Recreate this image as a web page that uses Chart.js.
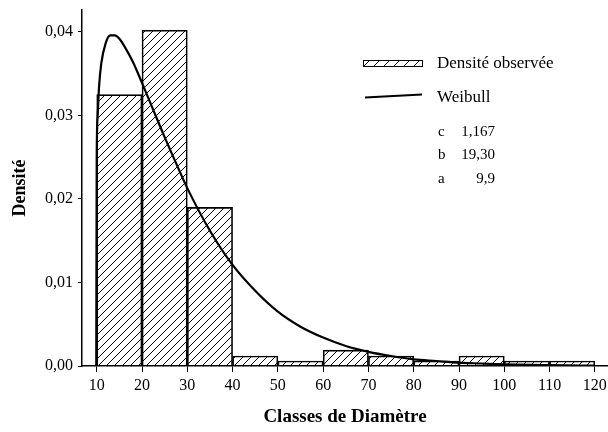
<!DOCTYPE html>
<html>
<head>
<meta charset="utf-8">
<script src="https://cdn.jsdelivr.net/npm/chart.js@4"></script>
<style>
  html, body { margin: 0; padding: 0; background: #fff; }
  #wrap { width: 608px; height: 432px; position: relative; }
</style>
</head>
<body>
<div id="wrap"><canvas id="myChart"></canvas></div>
<script>
// histogram classes (centres of 10 cm classes) and observed density
const classCentres = [15, 25, 35, 45, 55, 65, 75, 85, 95, 105, 115];
const observed = [0.0325, 0.0402, 0.0190, 0.0012, 0.0006, 0.0019, 0.0012, 0.0006, 0.0012, 0.0006, 0.0006];

// fitted Weibull curve
const curveX = [9.9, 10, 10.2, 10.5, 11, 12, 13, 14, 15, 16, 18, 20, 22, 25, 28, 30, 35, 40, 45, 50, 55, 60, 65, 70, 75, 80, 85, 90, 95, 100, 110, 120];
const curveY = [0, 0.0250, 0.0299, 0.0333, 0.0362, 0.0387, 0.0396, 0.0396, 0.0392, 0.0384, 0.0364, 0.0339, 0.0313, 0.0274, 0.0237, 0.0213, 0.0162, 0.0121, 0.0090, 0.0065, 0.0047, 0.0034, 0.0024, 0.0017, 0.0012, 0.0008, 0.0006, 0.0004, 0.0003, 0.0002, 0.0001, 0.00004];

const xTicks = [10, 20, 30, 40, 50, 60, 70, 80, 90, 100, 110, 120];
const yTicks = [0, 0.01, 0.02, 0.03, 0.04];

const paramNames = ["c", "b", "a"];
const paramValues = ["1,167", "19,30", "9,9"];

const serif = "'Liberation Serif', 'Times New Roman', serif";

function hatch(step) {
    const c = document.createElement('canvas');
    c.width = step; c.height = step;
    const g = c.getContext('2d');
    g.strokeStyle = '#000';
    g.lineWidth = 1;
    g.beginPath();
    g.moveTo(-1, step + 1); g.lineTo(step + 1, -1);
    g.moveTo(-1, 1); g.lineTo(1, -1);
    g.moveTo(step - 1, step + 1); g.lineTo(step + 1, step - 1);
    g.stroke();
    return g.createPattern(c, 'repeat');
}

const comma = v => v.toFixed(2).replace('.', ',');

// legend drawn inside the plot, top right
const legendBox = {
    id: 'legendBox',
    afterDraw(chart) {
        const ctx = chart.ctx;
        ctx.save();
        ctx.fillStyle = hatch(10);
        ctx.fillRect(363, 60, 60, 7);
        ctx.strokeStyle = '#000';
        ctx.lineWidth = 1;
        ctx.strokeRect(363.5, 60.5, 59, 6);

        ctx.lineWidth = 2;
        ctx.beginPath();
        ctx.moveTo(365, 97.5);
        ctx.lineTo(422, 94.5);
        ctx.stroke();

        ctx.fillStyle = '#000';
        ctx.font = '17px ' + serif;
        ctx.textBaseline = 'middle';
        ctx.textAlign = 'left';
        ctx.fillText(chart.data.datasets[0].label, 437, 64);
        ctx.fillText(chart.data.datasets[1].label, 437, 98);

        ctx.font = '15px ' + serif;
        paramNames.forEach((n, i) => {
            const y = 132 + i * 23.5;
            ctx.textAlign = 'left';
            ctx.fillText(n, 438, y);
            ctx.textAlign = 'right';
            ctx.fillText(paramValues[i], 495, y);
        });
        ctx.restore();
    }
};

new Chart("myChart", {
    type: "bar",
    data: {
        datasets: [{
            type: "bar",
            label: "Densité observée",
            data: classCentres.map((x, i) => ({x: x, y: observed[i]})),
            backgroundColor: hatch(8),
            borderColor: "#000",
            borderWidth: 1,
            borderSkipped: 'bottom',
            barPercentage: 1,
            categoryPercentage: 1,
            order: 2
        }, {
            type: "line",
            label: "Weibull",
            data: curveX.map((x, i) => ({x: x, y: curveY[i]})),
            borderColor: "#000",
            borderWidth: 2.2,
            pointRadius: 0,
            cubicInterpolationMode: 'monotone',
            fill: false,
            order: 1
        }]
    },
    plugins: [legendBox],
    options: {
        responsive: true,
        maintainAspectRatio: false,
        animation: false,
        layout: {padding: {top: 10, right: 0, left: 0, bottom: 0}},
        plugins: {
            legend: {display: false},
            tooltip: {enabled: false}
        },
        scales: {
            x: {
                type: 'linear',
                offset: false,
                min: 6.75,
                max: 122.9,
                afterBuildTicks: s => { s.ticks = xTicks.map(v => ({value: v})); },
                afterFit: s => { s.height = 66; s.paddingRight = 0; s.paddingLeft = 0; },
                grid: {
                    offset: false,
                    drawOnChartArea: false,
                    drawTicks: true,
                    tickLength: 6,
                    color: '#000'
                },
                border: {display: true, color: '#000', width: 1.5},
                ticks: {
                    color: '#000',
                    font: {family: serif, size: 16},
                    padding: 4,
                    maxRotation: 0
                },
                title: {
                    display: true,
                    text: "Classes de Diamètre",
                    color: '#000',
                    font: {family: serif, size: 19, weight: 'bold'},
                    padding: {top: 14}
                }
            },
            y: {
                min: 0,
                max: 0.04263,
                afterBuildTicks: s => { s.ticks = yTicks.map(v => ({value: v})); },
                afterFit: s => { s.width = 82; s.paddingTop = 0; s.paddingBottom = 0; },
                grid: {
                    drawOnChartArea: false,
                    drawTicks: true,
                    tickLength: 4,
                    color: '#000'
                },
                border: {display: true, color: '#000', width: 1.5},
                ticks: {
                    color: '#000',
                    font: {family: serif, size: 16},
                    padding: 5,
                    callback: v => comma(v)
                },
                title: {
                    display: true,
                    text: "Densité",
                    color: '#000',
                    font: {family: serif, size: 18, weight: 'bold'},
                    padding: {top: 10, bottom: 0}
                }
            }
        }
    }
});
</script>
</body>
</html>
